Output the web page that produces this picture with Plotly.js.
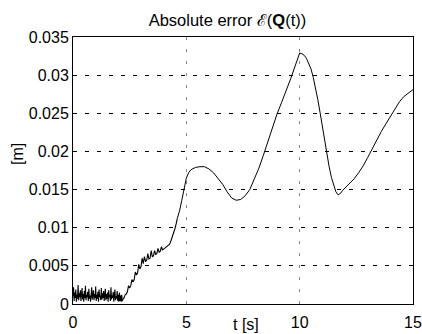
<!DOCTYPE html>
<html>
<head>
<meta charset="utf-8">
<script src="https://cdn.plot.ly/plotly-3.0.1.min.js"></script>
<style>html,body{margin:0;padding:0;background:#fff;}#chart{width:422px;height:334px;}</style>
</head>
<body>
<div id="chart"></div>
<script>
// Noisy start segment: samples every 0.025 s from t = 0 to 2.2 s
var noiseStart = 0;
var noiseStep = 0.025;
var noiseErr = [
0.0010,0.0022,0.0004,0.0015,0.0008,0.0019,0.0003,0.0012,0.0007,0.0025,
0.0005,0.0014,0.0009,0.0018,0.0004,0.0011,0.0021,0.0006,0.0013,0.0003,
0.0017,0.0008,0.0024,0.0005,0.0012,0.0009,0.0016,0.0004,0.0020,0.0007,
0.0011,0.0003,0.0015,0.0022,0.0006,0.0010,0.0018,0.0005,0.0013,0.0008,
0.0023,0.0004,0.0012,0.0007,0.0016,0.0003,0.0019,0.0009,0.0011,0.0005,
0.0021,0.0006,0.0014,0.0008,0.0017,0.0004,0.0010,0.0020,0.0005,0.0013,
0.0007,0.0015,0.0003,0.0018,0.0009,0.0012,0.0004,0.0022,0.0006,0.0011,
0.0008,0.0016,0.0003,0.0013,0.0019,0.0005,0.0010,0.0007,0.0017,0.0004,
0.0012,0.0003,0.0015,0.0004,0.0011,0.0003,0.0012,0.0004,0.0006
];
// Rising segment with small spikes: samples every 0.05 s from t = 2.2 to 4.6 s
var riseStart = 2.2;
var riseStep = 0.05;
var riseErr = [
0.0006,0.0008,0.0012,0.0013,0.0016,0.0024,0.0021,0.0024,0.0032,0.0029,
0.0032,0.0042,0.0038,0.0041,0.0052,0.0046,0.0049,0.0060,0.0053,0.0062,
0.0056,0.0057,0.0066,0.0059,0.0060,0.0070,0.0062,0.0063,0.0070,0.0065,
0.0066,0.0073,0.0068,0.0069,0.0075,0.0071,0.0072,0.0073,0.0074,0.0075,
0.0076,0.0078,0.0081,0.0085,0.0089,0.0094,0.0099,0.0105,0.0112
];
// Smooth segment
var smoothT = [4.6,4.7,4.8,4.9,5.0,5.1,5.2,5.4,5.6,5.8,6.0,6.2,6.4,6.6,6.8,7.0,7.2,7.4,7.6,7.8,
8.0,8.2,8.4,8.6,8.8,9.0,9.2,9.4,9.6,9.8,10.0,10.1,10.2,10.3,10.4,10.5,10.6,10.7,10.8,10.9,
11.0,11.1,11.2,11.3,11.4,11.5,11.6,11.7,11.8,11.9,12.0,12.2,12.4,12.6,12.8,13.0,13.2,13.4,13.6,13.8,
14.0,14.2,14.4,14.6,14.8,15.0];
var smoothErr = [0.0112,0.0122,0.0136,0.0152,0.0165,0.0172,0.0176,0.0179,0.0180,0.0180,
0.0177,0.0172,0.0165,0.0157,0.0147,0.0139,0.0136,0.0137,0.0142,0.0150,
0.0164,0.0178,0.0195,0.0213,0.0232,0.0249,0.0264,0.0279,0.0295,0.0312,
0.0329,0.0328,0.0326,0.0322,0.0316,0.0308,0.0297,0.0284,0.0268,0.0251,
0.0233,0.0214,0.0196,0.0180,0.0166,0.0155,0.0147,0.0143,0.0145,0.0149,
0.0152,0.0157,0.0164,0.0172,0.0181,0.0192,0.0204,0.0215,0.0226,0.0236,
0.0246,0.0256,0.0265,0.0272,0.0276,0.0281];

var xTickVals = [0,5,10,15];
var xTickText = ['0','5','10','15'];
var yTickVals = [0,0.005,0.01,0.015,0.02,0.025,0.03,0.035];
var yTickText = ['0','0.005','0.01','0.015','0.02','0.025','0.03','0.035'];

var lineStyle = {color:'#000', width:1.1};
var traces = [
  {type:'scatter', mode:'lines', x0:noiseStart, dx:noiseStep, y:noiseErr, line:lineStyle, hoverinfo:'skip'},
  {type:'scatter', mode:'lines', x0:riseStart, dx:riseStep, y:riseErr, line:lineStyle, hoverinfo:'skip'},
  {type:'scatter', mode:'lines', x:smoothT, y:smoothErr, line:{color:'#000', width:1}, hoverinfo:'skip'}
];

var font = {family:'"Liberation Sans", Arial, sans-serif', size:16, color:'#000'};
var layout = {
  width:422, height:334,
  margin:{l:73, r:9, t:37, b:30},
  paper_bgcolor:'#fff', plot_bgcolor:'#fff',
  showlegend:false,
  font:font,
  title:{text:'Absolute error \u2130(<b>Q</b>(t))', font:{family:font.family, size:16.5, color:'#000'},
         x:0.539, xref:'container', xanchor:'center', y:0.94, yref:'container', yanchor:'middle'},
  xaxis:{range:[0,15], tickvals:xTickVals, ticktext:xTickText, showline:true, mirror:true,
         linecolor:'#000', linewidth:1, ticks:'', showgrid:true, gridcolor:'#888', griddash:'3px,9px',
         gridwidth:1, zeroline:false, ticklabelstandoff:4, tickfont:font, fixedrange:true},
  yaxis:{range:[0,0.035], tickvals:yTickVals, ticktext:yTickText, showline:true, mirror:true,
         linecolor:'#000', linewidth:1, ticks:'', showgrid:true, gridcolor:'#000', griddash:'4px,8px',
         gridwidth:1, zeroline:false, tickfont:font, fixedrange:true},
  annotations:[
    {text:'t [s]', xref:'paper', yref:'paper', x:0.508, y:-0.075, xanchor:'center', yanchor:'middle',
     showarrow:false, font:font},
    {text:'[m]', xref:'paper', yref:'paper', x:-0.163, y:0.56, xanchor:'center', yanchor:'middle',
     textangle:-90, showarrow:false, font:font}
  ]
};
Plotly.newPlot('chart', traces, layout, {staticPlot:true, displayModeBar:false});
</script>
</body>
</html>
